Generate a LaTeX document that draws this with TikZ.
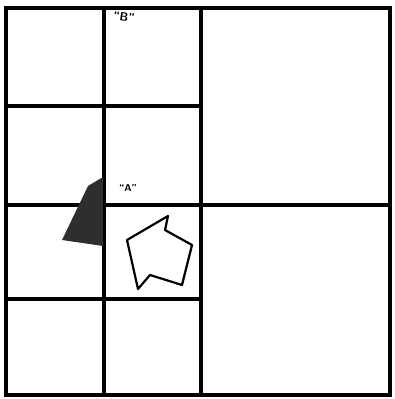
\documentclass[tikz,border=0pt]{standalone}
\usetikzlibrary{positioning}
\begin{document}
\begin{tikzpicture}[
  x=1pt, y=-1pt,
  wall/.style={line width=3.2pt, line cap=rect},
  tag/.style={font=\sffamily\bfseries\normalsize, inner sep=0pt}
]
\useasboundingbox (0,0) rectangle (394,399);
% frame and grid
\draw[wall] (6,8) rectangle (390,395);
\draw[wall] (104,8) -- (104,395);
\draw[wall] (201,8) -- (201,395);
\draw[wall] (6,106) -- (201,106);
\draw[wall] (6,205) -- (390,205);
\draw[wall] (6,299) -- (201,299);
% dark wedge
\fill[black!82] (103,177) -- (88,186) -- (62,240) -- (103,246) -- cycle;
% arrow outline
\draw[line width=2.2pt, line join=round]
  (127,240) -- (168,216) -- (165,230) -- (192,245) -- (182,285)
  -- (150,275) -- (138,289) -- cycle;
\node[tag] (labelA) at (128,188) {``A''};
\node[tag, font=\sffamily\bfseries\large, rotate=-8] (labelB) at (124,17) {``B''};
\end{tikzpicture}
\end{document}
